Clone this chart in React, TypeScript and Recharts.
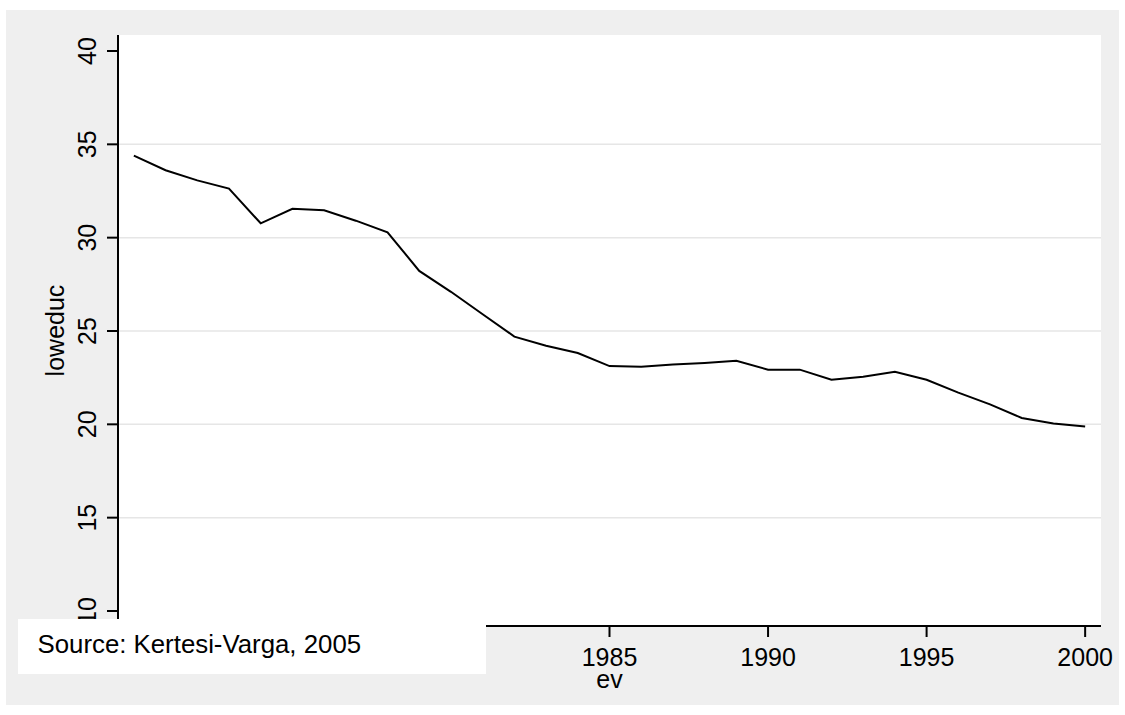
import React from 'react';
import { LineChart, Line, XAxis, YAxis, CartesianGrid } from 'recharts';

const years = [
  1970, 1971, 1972, 1973, 1974, 1975, 1976, 1977, 1978, 1979, 1980,
  1981, 1982, 1983, 1984, 1985, 1986, 1987, 1988, 1989, 1990,
  1991, 1992, 1993, 1994, 1995, 1996, 1997, 1998, 1999, 2000,
];
const loweduc = [
  34.39, 33.61, 33.07, 32.63, 30.77, 31.55, 31.47, 30.91, 30.29, 28.22, 27.1,
  25.9, 24.7, 24.21, 23.82, 23.12, 23.09, 23.2, 23.29, 23.41, 22.93,
  22.93, 22.39, 22.55, 22.82, 22.39, 21.7, 21.07, 20.34, 20.05, 19.89,
];
// 1970-1980 ticks sit under the source note in the original, only these show
const xTicks = [1985, 1990, 1995, 2000];
const yTicks = [10, 15, 20, 25, 30, 35, 40];
const gridValues = [15, 20, 25, 30, 35];
const sourceNote = 'Source: Kertesi-Varga, 2005';

const FONT = '"Liberation Sans", Arial, sans-serif';
const data = years.map((ev, i) => ({ ev, loweduc: loweduc[i] }));

const YTick = ({ x, y, payload }: any) => (
  <text
    x={x - 8.5}
    y={y}
    transform={`rotate(-90, ${x - 8.5}, ${y})`}
    textAnchor="middle"
    fontSize={25}
    fontFamily={FONT}
    fill="#000"
  >
    {payload.value}
  </text>
);

const XTick = ({ x, y, payload }: any) => (
  <text x={x} y={y + 27} textAnchor="middle" fontSize={25} fontFamily={FONT} fill="#000">
    {payload.value}
  </text>
);

const App: React.FC = () => {
  return (
    <div style={{ position: 'absolute', left: 0, top: 0, width: 1125, height: 715, background: '#fff' }}>
      {/* graph region */}
      <div style={{ position: 'absolute', left: 6, top: 10, width: 1113, height: 695, background: '#efefef' }} />
      <div style={{ position: 'absolute', left: 0, top: 0 }}>
        <LineChart width={1125} height={715} data={data} margin={{ top: 35, right: 24, bottom: 9, left: 18 }}>
          <CartesianGrid
            horizontal
            vertical={false}
            horizontalValues={gridValues}
            stroke="#e6e6e6"
            strokeWidth={1.5}
            fill="#ffffff"
          />
          <XAxis
            dataKey="ev"
            type="number"
            domain={[1969.5, 2000.5]}
            allowDataOverflow
            ticks={xTicks}
            height={80}
            tickSize={11}
            tickMargin={2}
            tick={<XTick />}
            axisLine={{ stroke: '#000', strokeWidth: 2 }}
            tickLine={{ stroke: '#000', strokeWidth: 2 }}
            label={{
              content: ({ viewBox }: any) => (
                <text
                  x={viewBox.x + viewBox.width / 2}
                  y={viewBox.y + 62}
                  textAnchor="middle"
                  fontSize={25}
                  fontFamily={FONT}
                  fill="#000"
                >
                  ev
                </text>
              ),
            }}
          />
          <YAxis
            type="number"
            domain={[9.196, 40.857]}
            allowDataOverflow
            ticks={yTicks}
            width={100}
            tickSize={11}
            tickMargin={2}
            tick={<YTick />}
            axisLine={{ stroke: '#000', strokeWidth: 2 }}
            tickLine={{ stroke: '#000', strokeWidth: 2 }}
            label={{
              content: ({ viewBox }: any) => {
                const cx = viewBox.x + 46;
                const cy = viewBox.y + viewBox.height / 2;
                return (
                  <text
                    x={cx}
                    y={cy}
                    transform={`rotate(-90, ${cx}, ${cy})`}
                    textAnchor="middle"
                    fontSize={25}
                    fontFamily={FONT}
                    fill="#000"
                  >
                    loweduc
                  </text>
                );
              },
            }}
          />
          <Line
            type="linear"
            dataKey="loweduc"
            stroke="#000"
            strokeWidth={2}
            dot={false}
            activeDot={false}
            isAnimationActive={false}
          />
        </LineChart>
      </div>
      {/* note box, drawn over the lower-left of the axes like in the original */}
      <svg width={1125} height={715} style={{ position: 'absolute', left: 0, top: 0, pointerEvents: 'none' }}>
        <rect x={18} y={619} width={468} height={55} fill="#fff" />
        <text x={37.5} y={653.3} fontSize={25.8} fontFamily={FONT} fill="#000">
          {sourceNote}
        </text>
      </svg>
    </div>
  );
};

export default App;
